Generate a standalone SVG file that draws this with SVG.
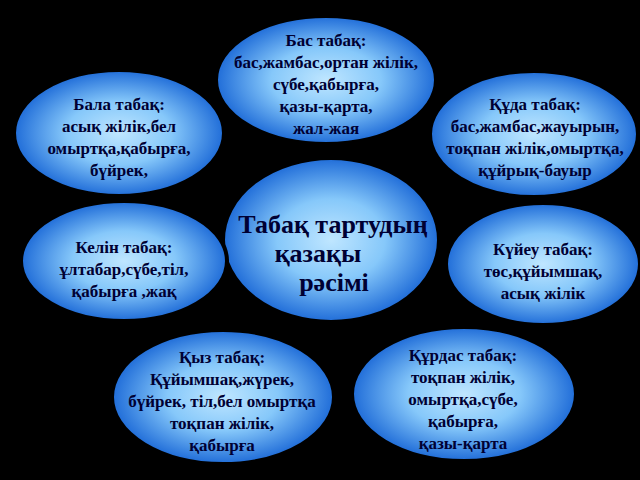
<svg xmlns="http://www.w3.org/2000/svg" width="640" height="480" viewBox="0 0 640 480">
<defs>
<radialGradient id="g" cx="50%" cy="50%" r="50%">
<stop offset="0" stop-color="#bfe6ff"/>
<stop offset="0.5" stop-color="#86c8fa"/>
<stop offset="1" stop-color="#1f6cd8"/>
</radialGradient>
</defs>
<style>
.e{fill:url(#g);stroke:#000;stroke-width:4}
.t{font-family:"Liberation Serif","DejaVu Serif","Times New Roman",serif;font-weight:bold;font-size:17px;fill:#000033;text-anchor:middle}
.c{font-size:26px}
</style>
<rect width="640" height="480" fill="#000"/>
<g id="bas">
<ellipse class="e" cx="326" cy="80" rx="110" ry="64"/>
<text class="t" x="326" y="46">Бас табақ:</text>
<text class="t" x="326" y="68">бас,жамбас,ортан жілік,</text>
<text class="t" x="326" y="90">сүбе,қабырға,</text>
<text class="t" x="326" y="112">қазы-қарта,</text>
<text class="t" x="326" y="134">жал-жая</text>
</g>
<g id="bala">
<ellipse class="e" cx="119" cy="133" rx="105" ry="63"/>
<text class="t" x="119" y="110">Бала табақ:</text>
<text class="t" x="119" y="132">асық жілік,бел</text>
<text class="t" x="119" y="154">омыртқа,қабырға,</text>
<text class="t" x="119" y="176">бүйрек,</text>
</g>
<g id="kuda">
<ellipse class="e" cx="534" cy="134" rx="104" ry="63"/>
<text class="t" x="535" y="110">Құда табақ:</text>
<text class="t" x="535" y="132">бас,жамбас,жауырын,</text>
<text class="t" x="535" y="154">тоқпан жілік,омыртқа,</text>
<text class="t" x="535" y="176">құйрық-бауыр</text>
</g>
<g id="center">
<ellipse class="e" cx="331" cy="240" rx="108" ry="82"/>
<text class="t c" x="333" y="233">Табақ тартудың</text>
<text class="t c" x="318" y="262">қазақы</text>
<text class="t c" x="334" y="291">рәсімі</text>
</g>
<g id="kelin">
<ellipse class="e" cx="124" cy="261" rx="103" ry="60"/>
<text class="t" x="124" y="253">Келін табақ:</text>
<text class="t" x="124" y="275">ұлтабар,сүбе,тіл,</text>
<text class="t" x="124" y="297">қабырға ,жақ</text>
</g>
<g id="kuieu">
<ellipse class="e" cx="543" cy="264" rx="97" ry="61"/>
<text class="t" x="543" y="255">Күйеу табақ:</text>
<text class="t" x="543" y="277">төс,құйымшақ,</text>
<text class="t" x="543" y="299">асық жілік</text>
</g>
<g id="kyz">
<ellipse class="e" cx="223" cy="397" rx="111" ry="67"/>
<text class="t" x="222" y="363">Қыз табақ:</text>
<text class="t" x="222" y="385">Құйымшақ,жүрек,</text>
<text class="t" x="222" y="407">бүйрек, тіл,бел омыртқа</text>
<text class="t" x="222" y="429">тоқпан жілік,</text>
<text class="t" x="222" y="451">қабырға</text>
</g>
<g id="kurdas">
<ellipse class="e" cx="464" cy="394" rx="112" ry="67"/>
<text class="t" x="463" y="361">Құрдас табақ:</text>
<text class="t" x="463" y="383">тоқпан жілік,</text>
<text class="t" x="463" y="405">омыртқа,сүбе,</text>
<text class="t" x="463" y="427">қабырға,</text>
<text class="t" x="463" y="449">қазы-қарта</text>
</g>
</svg>
